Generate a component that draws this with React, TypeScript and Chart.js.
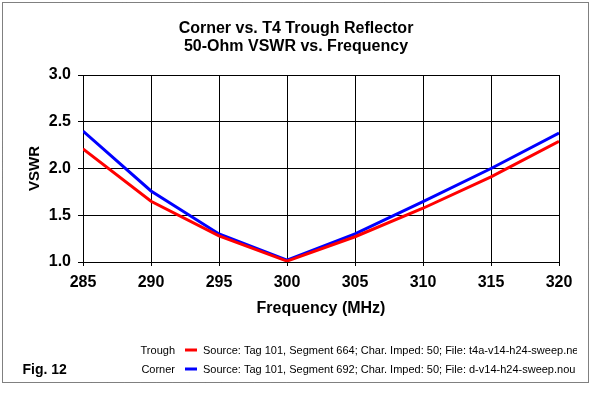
import React, { useEffect, useRef } from "react";
import { Chart, registerables } from "chart.js";

Chart.register(...registerables);

const frequencies = [285, 290, 295, 300, 305, 310, 315, 320];
const troughVSWR = [2.21, 1.65, 1.28, 1.01, 1.27, 1.575, 1.91, 2.29];
const cornerVSWR = [2.4, 1.76, 1.3, 1.02, 1.3, 1.645, 2.0, 2.38];
const yTicks = [1.0, 1.5, 2.0, 2.5, 3.0];
const titleLines = ["Corner vs. T4 Trough Reflector", "50-Ohm VSWR vs. Frequency"];
const seriesNames = ["Trough", "Corner"];
const seriesSources = [
  "Source: Tag 101, Segment 664; Char. Imped: 50; File: t4a-v14-h24-sweep.nec",
  "Source: Tag 101, Segment 692; Char. Imped: 50; File: d-v14-h24-sweep.nou",
];
const seriesColors = ["#FF0000", "#0000FF"];
const xTitle = "Frequency (MHz)";
const yTitle = "VSWR";
const figLabel = "Fig. 12";

const FONT = "'Liberation Sans', Arial, sans-serif";

const decorPlugin = {
  id: "decor",
  afterDraw(chart: any) {
    const ctx = chart.ctx as CanvasRenderingContext2D;
    const area = chart.chartArea;
    ctx.save();
    // dotted frame
    ctx.strokeStyle = "#000";
    ctx.lineWidth = 1;
    ctx.setLineDash([1, 1]);
    ctx.strokeRect(2.5, 2.5, 586, 380);
    ctx.setLineDash([]);

    ctx.fillStyle = "#000";
    // title
    ctx.font = `bold 16px ${FONT}`;
    ctx.textAlign = "center";
    ctx.textBaseline = "alphabetic";
    ctx.fillText(titleLines[0], 296, 33);
    ctx.fillText(titleLines[1], 296, 50.5);

    // x title
    ctx.fillText(xTitle, (area.left + area.right) / 2, 313);

    // y title
    ctx.save();
    ctx.font = `bold 15px ${FONT}`;
    ctx.translate(34.5, (area.top + area.bottom) / 2);
    ctx.rotate(-Math.PI / 2);
    ctx.textBaseline = "middle";
    ctx.fillText(yTitle, 0, 0);
    ctx.restore();

    // fig label
    ctx.font = `bold 14px ${FONT}`;
    ctx.textAlign = "left";
    ctx.fillText(figLabel, 22.5, 374);

    // legend
    const baselines = [353.5, 372.5];
    const lineYs = [350, 369];
    for (let i = 0; i < seriesNames.length; i++) {
      ctx.font = `11px ${FONT}`;
      ctx.textAlign = "right";
      ctx.fillStyle = "#000";
      ctx.fillText(seriesNames[i], 175, baselines[i]);
      ctx.strokeStyle = seriesColors[i];
      ctx.lineWidth = 3;
      ctx.beginPath();
      ctx.moveTo(185, lineYs[i]);
      ctx.lineTo(197, lineYs[i]);
      ctx.stroke();
      ctx.save();
      ctx.beginPath();
      ctx.rect(0, 0, 577, 394);
      ctx.clip();
      ctx.textAlign = "left";
      ctx.fillText(seriesSources[i], 203, baselines[i]);
      ctx.restore();
    }
    ctx.restore();
  },
};

export default function App() {
  const canvasRef = useRef<HTMLCanvasElement | null>(null);

  useEffect(() => {
    const canvas = canvasRef.current;
    if (!canvas) return;
    const datasets = [troughVSWR, cornerVSWR].map((vals, i) => ({
      label: seriesNames[i],
      data: frequencies.map((f, j) => ({ x: f, y: vals[j] })),
      borderColor: seriesColors[i],
      backgroundColor: seriesColors[i],
      borderWidth: 3,
      pointRadius: 0,
      tension: 0,
      fill: false,
    }));
    const chart = new Chart(canvas, {
      type: "line",
      data: { datasets },
      options: {
        animation: false,
        responsive: false,
        devicePixelRatio: 1,
        layout: { padding: { top: 75, right: 33, bottom: 0, left: 0 } },
        plugins: {
          legend: { display: false },
          title: { display: false },
          tooltip: { enabled: false },
        },
        scales: {
          x: {
            type: "linear",
            min: frequencies[0],
            max: frequencies[frequencies.length - 1],
            afterFit(scale: any) {
              scale.height = 132;
            },
            afterBuildTicks(scale: any) {
              scale.ticks = frequencies.map((v) => ({ value: v }));
            },
            ticks: {
              color: "#000",
              font: { family: FONT, size: 16, weight: "bold" },
              padding: 7,
              maxRotation: 0,
              callback: (v: any) => String(v),
            },
            grid: { color: "#000", lineWidth: 1, tickLength: 4, drawTicks: true },
            border: { color: "#000", width: 1 },
          },
          y: {
            type: "linear",
            min: 1,
            max: 3,
            afterFit(scale: any) {
              scale.width = 83;
            },
            afterBuildTicks(scale: any) {
              scale.ticks = yTicks.map((v) => ({ value: v }));
            },
            ticks: {
              color: "#000",
              font: { family: FONT, size: 16, weight: "bold" },
              padding: 7,
              callback: (v: any) => Number(v).toFixed(1),
            },
            grid: { color: "#000", lineWidth: 1, tickLength: 5, drawTicks: true },
            border: { color: "#000", width: 1 },
          },
        },
      } as any,
      plugins: [decorPlugin],
    });
    return () => chart.destroy();
  }, []);

  return (
    <div style={{ position: "absolute", left: 0, top: 0, width: 592, height: 394, background: "#fff" }}>
      <canvas ref={canvasRef} width={592} height={394} style={{ display: "block" }} />
    </div>
  );
}
